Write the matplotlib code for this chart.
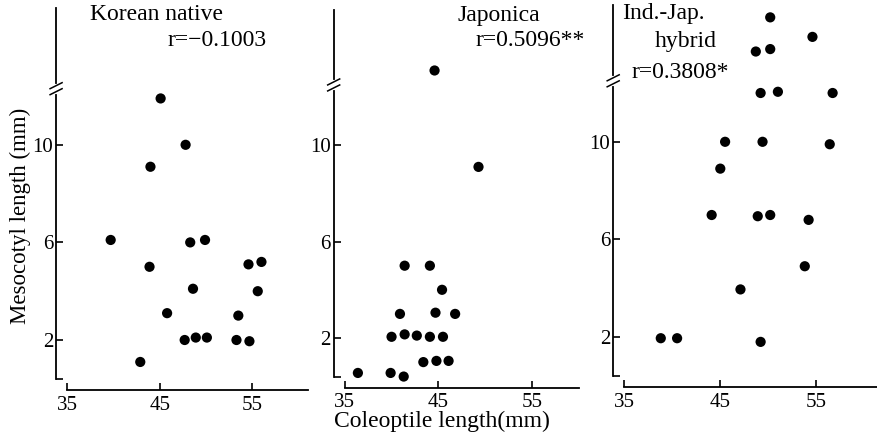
import numpy as np
import matplotlib
matplotlib.use("Agg")
import matplotlib.pyplot as plt
from matplotlib.lines import Line2D
from matplotlib.transforms import IdentityTransform

plt.rcParams['font.family'] = ['Liberation Serif', 'DejaVu Serif']

W, H = 877, 443

# data (coleoptile length mm, mesocotyl length mm; points above the
# axis break are given in the plotted axis units)
kor_x = [45.1, 47.8, 44.0, 39.7, 43.9, 48.3, 49.9, 54.6, 56.0, 48.6,
         55.6, 45.8, 53.5, 47.7, 48.9, 50.1, 53.3, 54.7, 42.9]
kor_y = [11.9, 10.0, 9.1, 6.1, 5.0, 6.0, 6.1, 5.1, 5.2, 4.1,
         4.0, 3.1, 3.0, 2.0, 2.1, 2.1, 2.0, 1.95, 1.1]

jap_x = [44.6, 49.3, 41.4, 44.1, 45.4, 40.9, 44.7, 46.8, 40.0, 41.4,
         42.7, 44.1, 45.5, 43.4, 44.8, 46.1, 36.4, 39.9, 41.3]
jap_y = [13.1, 9.1, 5.0, 5.0, 4.0, 3.0, 3.05, 3.0, 2.05, 2.15,
         2.1, 2.05, 2.05, 1.0, 1.05, 1.05, 0.55, 0.55, 0.4]

hyb_x = [50.2, 54.6, 48.7, 50.2, 49.2, 51.0, 56.7, 45.5, 49.4, 56.4,
         45.0, 44.1, 48.9, 50.2, 54.2, 53.8, 47.1, 38.8, 40.5, 49.2]
hyb_y = [15.1, 14.3, 13.7, 13.8, 12.0, 12.05, 12.0, 10.0, 10.0, 9.9,
         8.9, 7.0, 6.95, 7.0, 6.8, 4.9, 3.95, 1.95, 1.95, 1.8]

xticks = [35, 45, 55]
yticks = [2, 6, 10]
r_text = ["r=\u22120.1003", "r=0.5096**", "r=0.3808*"]

fig = plt.figure(figsize=(W / 100, H / 100), dpi=100)

# pixel anchors: (x at 35, px per mm, x max, y px at 2, px per mm, break)
panels = [
    (kor_x, kor_y, 67.2, 9.25, 61.0, 340, 24.4, 12.3),
    (jap_x, jap_y, 344.8, 9.35, 60.0, 338, 24.1, 12.5),
    (hyb_x, hyb_y, 624.3, 9.6, 61.3, 337, 24.4, 12.5),
]
ylo, yhi = 0.4, 15.6
off = 8  # spine offset, pt

for xs, ys, x35, sx, xmax, y2, sy, yb in panels:
    left = x35
    right = x35 + (xmax - 35) * sx
    bottom = y2 + (2 - ylo) * sy
    top = y2 - (yhi - 2) * sy
    ax = fig.add_axes([left / W, (H - bottom) / H, (right - left) / W,
                       (bottom - top) / H])
    ax.scatter(xs, ys, s=54, color='black', edgecolors='none', zorder=3,
               clip_on=False)
    ax.set_xlim(35, xmax)
    ax.set_ylim(ylo, yhi)
    for s in ['top', 'right']:
        ax.spines[s].set_visible(False)
    for s in ['left', 'bottom']:
        ax.spines[s].set_position(('outward', off))
        ax.spines[s].set_linewidth(1.3)
    ax.set_xticks(xticks)
    ax.set_xticklabels([str(t) for t in xticks])
    ax.set_yticks([ylo] + yticks)
    ax.set_yticklabels([''] + [str(t) for t in yticks])
    ax.tick_params(direction='in', length=5, width=1.2, labelsize=15,
                   pad=2)
    ax.tick_params(axis='x', pad=4)
    ax.patch.set_alpha(0)

    # axis break on the y spine
    px = left - off * 100 / 72
    py = H - (y2 - (yb - 2) * sy)  # display coords (origin bottom)
    fig.add_artist(Line2D([px, px], [py - 3, py + 3], color='white', lw=3,
                          transform=IdentityTransform()))
    for d in (-3, 3):
        fig.add_artist(Line2D([px - 6, px + 6], [py + d - 3, py + d + 3],
                              color='black', lw=1.1,
                              transform=IdentityTransform()))

def ftext(x, y, s, **kw):
    fig.text(x / W, 1 - y / H, s, va='center', ha='left', fontsize=17, **kw)

ftext(90, 15, "Korean native")
ftext(168, 41, r_text[0])
ftext(458, 15, "Japonica")
ftext(475, 41, r_text[1])
ftext(622, 14, "Ind.-Jap.")
ftext(655, 42, "hybrid")
ftext(632, 72, r_text[2])

fig.text(20 / W, 1 - 216 / H, "Mesocotyl length (mm)", rotation=90,
         va='center', ha='center', fontsize=16.5)
fig.text(442 / W, 1 - 421 / H, "Coleoptile length(mm)", va='center',
         ha='center', fontsize=17)

fig.savefig("out.png", dpi=100)
